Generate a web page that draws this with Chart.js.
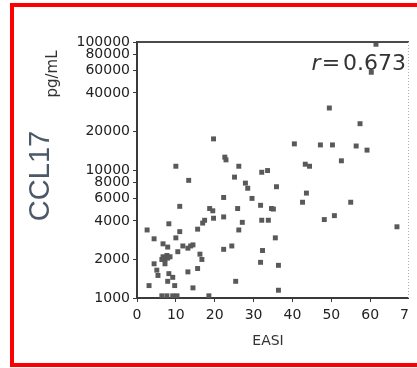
<!DOCTYPE html>
<html>
<head>
<meta charset="utf-8">
<script src="https://cdn.jsdelivr.net/npm/chart.js"></script>
<style>
  html, body { margin: 0; padding: 0; background: #fff; overflow: hidden; width: 417px; height: 368px; }
  .red { position: absolute; background: #ff0000; }
  #chart { position: absolute; left: 0; top: 0; }
</style>
</head>
<body>
<div class="red" style="left:10px; top:3px; width:4px; height:364px;"></div>
<div class="red" style="left:10px; top:3px; width:407px; height:4px;"></div>
<div class="red" style="left:10px; top:363px; width:407px; height:4px;"></div>
<canvas id="chart" width="409" height="368"></canvas>
<script>
// EASI score (x) and serum CCL17 in pg/mL (y), one entry per patient
var easi = [
  61.5, 60.3, 49.5, 57.4, 40.5, 47.2, 50.3, 56.4, 59.2, 52.6,
  43.3, 44.4, 19.7, 22.6, 22.9, 26.2, 10.0, 25.1, 32.1, 33.6,
  13.3, 27.9, 28.5, 35.9, 43.6, 42.6, 55.0, 22.3, 29.6, 31.8,
  11.0, 18.7, 19.5, 25.9, 34.6, 35.1, 48.2, 50.8, 66.9, 22.3,
  19.7, 17.4, 16.9, 27.1, 32.1, 33.8, 8.2, 15.6, 26.2, 2.6,
  11.0, 35.6, 4.4, 10.0, 6.7, 7.9, 11.8, 13.1, 13.8, 14.4,
  24.4, 22.3, 32.3, 16.2, 16.7, 10.5, 7.7, 8.5, 6.7, 7.9,
  7.2, 6.4, 4.4, 7.2, 31.8, 36.4, 15.6, 5.1, 5.4, 8.2,
  13.1, 9.2, 7.9, 25.4, 9.7, 3.1, 14.4, 36.4, 6.4, 7.7,
  9.2, 10.3, 18.5
];
var ccl17 = [
  96000, 58000, 30500, 23000, 16000, 15700, 15700, 15400, 14300, 11800,
  11100, 10700, 17500, 12600, 12000, 10700, 10700, 8800, 9600, 9900,
  8300, 7900, 7200, 7400, 6600, 5600, 5600, 6100, 6000, 5300,
  5200, 5000, 4800, 5000, 5000, 4950, 4100, 4400, 3600, 4300,
  4200, 4050, 3850, 3900, 4050, 4050, 3800, 3450, 3400, 3400,
  3300, 2950, 2900, 2950, 2650, 2500, 2550, 2450, 2550, 2600,
  2550, 2400, 2350, 2200, 2000, 2300, 2150, 2100, 2100, 2050,
  2000, 2000, 1850, 1850, 1900, 1800, 1700, 1650, 1500, 1550,
  1600, 1450, 1350, 1350, 1250, 1250, 1200, 1150, 1040, 1040,
  1040, 1040, 1040
];
var yTicks = [1000, 2000, 4000, 6000, 8000, 10000, 20000, 40000, 60000, 80000, 100000];
var rText = '0.673';

var points = easi.map(function(x, i) { return { x: x, y: ccl17[i] }; });

var decorations = {
  id: 'decorations',
  afterDraw: function(chart) {
    var ctx = chart.ctx, a = chart.chartArea;
    ctx.save();
    // heavy top edge and faint dotted right edge of the plot box
    ctx.strokeStyle = '#4a4a4a';
    ctx.lineWidth = 2;
    ctx.beginPath(); ctx.moveTo(a.left, a.top); ctx.lineTo(a.right, a.top); ctx.stroke();
    ctx.strokeStyle = '#b0b0b0';
    ctx.lineWidth = 1;
    ctx.setLineDash([1, 2]);
    ctx.beginPath(); ctx.moveTo(a.right - 0.5, a.top); ctx.lineTo(a.right - 0.5, a.bottom); ctx.stroke();
    ctx.setLineDash([]);

    // correlation label
    ctx.fillStyle = '#333';
    ctx.textBaseline = 'alphabetic';
    ctx.font = '22px "DejaVu Sans"';
    ctx.textAlign = 'right';
    ctx.fillText(rText, 406, 70);
    ctx.textAlign = 'center';
    ctx.fillText('=', 331, 70);
    ctx.font = 'italic 22px "DejaVu Sans"';
    ctx.fillText('r', 316, 70);

    // axis titles
    ctx.textBaseline = 'middle';
    ctx.font = '14px "DejaVu Sans"';
    ctx.fillText('EASI', 268, 341);

    ctx.translate(53, 74);
    ctx.rotate(-Math.PI / 2);
    ctx.font = '15px "DejaVu Sans"';
    ctx.fillText('pg/mL', 0, 0);
    ctx.restore();

    ctx.save();
    ctx.translate(41, 176);
    ctx.rotate(-Math.PI / 2);
    ctx.fillStyle = '#4b5867';
    ctx.textAlign = 'center';
    ctx.textBaseline = 'middle';
    ctx.font = '29px "Liberation Sans"';
    ctx.fillText('CCL17', 0, 0);
    ctx.restore();
  }
};

new Chart(document.getElementById('chart'), {
  type: 'scatter',
  data: {
    datasets: [{
      label: 'CCL17',
      data: points,
      pointStyle: 'rect',
      pointRadius: 3.5,
      pointBorderWidth: 0,
      backgroundColor: '#595959',
      borderColor: '#595959'
    }]
  },
  options: {
    responsive: false,
    animation: false,
    layout: { autoPadding: false, padding: { top: 42, right: 0, bottom: 0, left: 0 } },
    plugins: { legend: { display: false }, tooltip: { enabled: false } },
    scales: {
      x: {
        type: 'linear',
        min: 0,
        max: 70,
        afterFit: function(s) { s.height = 70; s.paddingRight = 0; },
        border: { color: '#3a3a3a', width: 2 },
        grid: { drawOnChartArea: false, tickLength: 4, color: '#3a3a3a' },
        ticks: {
          stepSize: 10,
          padding: 5,
          color: '#222',
          font: { family: 'DejaVu Sans', size: 14 }
        }
      },
      y: {
        type: 'logarithmic',
        min: 1000,
        max: 100000,
        afterFit: function(s) { s.width = 137; },
        afterBuildTicks: function(s) {
          s.ticks = yTicks.map(function(v) { return { value: v }; });
        },
        border: { color: '#3a3a3a', width: 2 },
        grid: { drawOnChartArea: false, tickLength: 4, color: '#3a3a3a' },
        ticks: {
          autoSkip: false,
          padding: 3,
          color: '#222',
          font: { family: 'DejaVu Sans', size: 14 },
          callback: function(v) { return String(v); }
        }
      }
    }
  },
  plugins: [decorations]
});
</script>
</body>
</html>
